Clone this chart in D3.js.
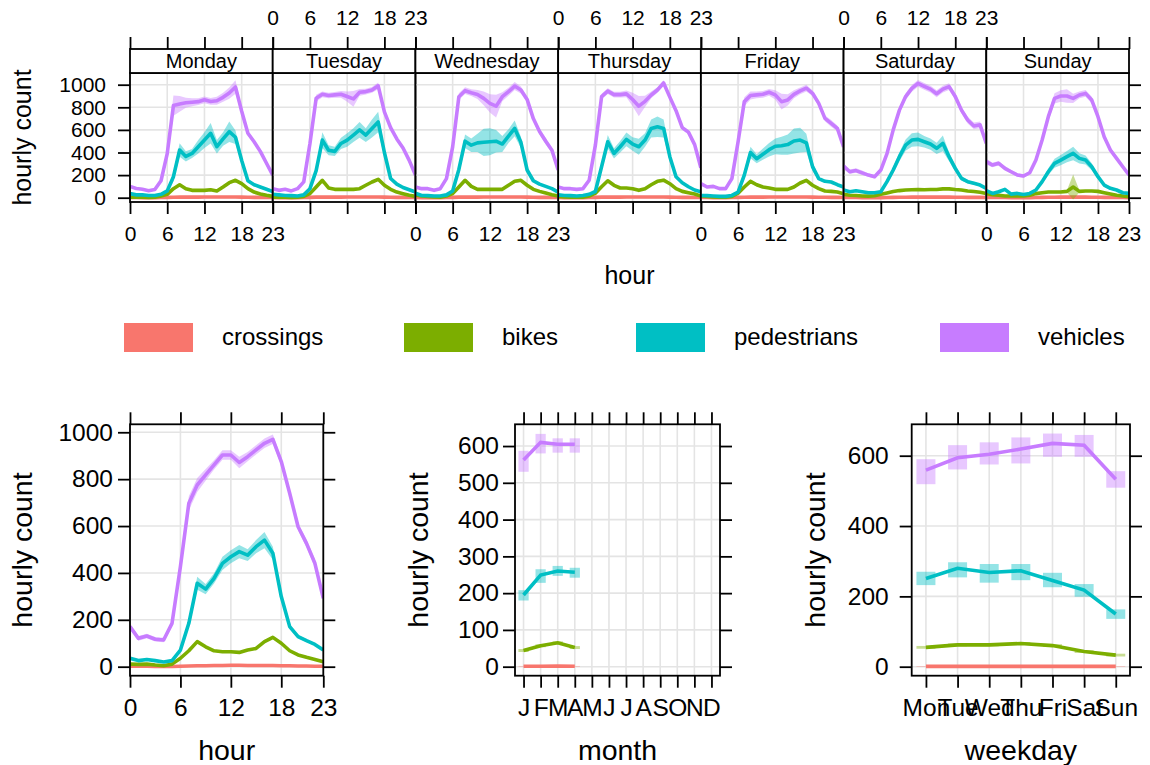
<!DOCTYPE html>
<html>
<head>
<meta charset="utf-8">
<script src="https://cdn.jsdelivr.net/npm/d3@7"></script>
<style>
body { margin: 0; background: #fff; }
text { font-family: "Liberation Sans", Arial, sans-serif; fill: #000; }
</style>
</head>
<body>
<div id="chart"></div>
<script>
var width = 1150,
    height = 765;

var days = ["Monday", "Tuesday", "Wednesday", "Thursday", "Friday", "Saturday", "Sunday"];
var dayShort = ["Mon", "Tue", "Wed", "Thu", "Fri", "Sat", "Sun"];
var monthLabels = ["J", "F", "M", "A", "M", "J", "J", "A", "S", "O", "N", "D"];
var seriesNames = ["crossings", "bikes", "pedestrians", "vehicles"];
var colors = ["#F8766D", "#7CAE00", "#00BFC4", "#C77CFF"];
var hourTicks = [0, 6, 12, 18, 23];

// hourly means per weekday (rows Monday..Sunday, hours 0..23)
var crossingsDay = [
  [2,2,1,1,1,2,3,4,5,5,5,5,6,6,6,6,6,6,5,4,3,3,2,2],
  [2,1,1,1,1,2,3,5,5,5,5,5,6,6,6,6,6,6,5,4,3,3,2,2],
  [2,1,1,1,1,2,3,5,5,5,5,6,6,6,6,6,6,6,5,4,3,3,2,2],
  [2,1,1,1,1,2,3,5,5,5,5,6,6,6,6,6,6,6,5,4,3,3,2,2],
  [2,2,1,1,1,2,3,4,5,5,5,6,6,6,6,6,6,6,5,4,4,3,3,2],
  [3,2,2,1,1,1,1,2,3,4,4,5,5,5,5,5,5,5,4,4,3,3,3,2],
  [3,2,2,2,1,1,1,1,2,3,4,4,5,5,5,5,5,4,4,3,3,2,2,1]
];
var crossingsBand = [2,2,2,2,2,2,2,2,2,2,2,2,2,2,2,2,2,2,2,2,2,2,2,2];

var bikesDay = [
  [5,4,4,3,4,15,30,80,115,80,65,65,65,70,60,95,133,154,124,80,50,33,21,12],
  [5,4,4,3,4,12,36,95,154,86,74,74,74,74,80,110,139,163,110,74,50,36,21,12],
  [25,15,10,6,5,15,36,95,154,100,74,74,74,74,74,110,145,154,110,74,56,41,27,15],
  [10,6,5,4,5,15,40,97,150,110,86,86,80,65,80,115,145,155,124,80,56,44,33,15],
  [15,10,6,5,5,12,40,95,145,115,95,86,74,74,74,95,130,154,110,80,59,56,50,36],
  [30,22,20,15,14,18,30,42,55,63,68,70,72,70,72,72,78,78,72,68,60,55,48,38],
  [36,27,21,15,15,15,15,21,36,44,50,50,50,56,95,56,59,59,56,44,33,21,15,8]
];
var bikesDayCI = [
  [3,3,3,3,3,5,8,10,12,10,8,8,8,8,8,10,12,12,10,8,6,5,4,3],
  [3,3,3,3,3,5,8,12,14,10,8,8,8,8,8,10,12,14,10,8,6,5,4,3],
  [4,3,3,3,3,5,8,12,14,10,8,8,8,8,8,10,12,14,10,8,6,5,4,3],
  [3,3,3,3,3,5,8,12,14,10,8,8,8,8,8,10,12,14,10,8,6,5,4,3],
  [3,3,3,3,3,5,8,12,16,14,10,8,8,8,8,10,12,14,10,8,6,5,4,4],
  [5,4,4,3,3,3,4,5,6,7,7,7,7,7,7,7,8,8,7,7,6,6,5,5],
  [6,5,5,4,4,4,4,5,6,8,8,8,8,10,110,10,8,8,8,8,6,5,4,4]
];

var pedestriansDay = [
  [36,25,25,20,20,30,60,186,422,365,392,451,510,570,451,520,584,535,330,150,115,95,75,55],
  [30,25,20,18,15,25,80,240,510,420,410,480,510,554,600,554,613,670,400,170,120,90,70,50],
  [40,20,18,15,15,25,60,250,500,465,485,490,495,500,475,545,613,490,245,150,120,100,80,50],
  [25,20,18,15,20,30,55,274,495,392,451,516,475,451,510,613,628,613,363,186,133,97,68,53],
  [20,18,15,12,12,20,50,200,400,345,385,425,455,460,470,502,510,485,275,169,145,139,115,95],
  [68,53,62,53,44,44,53,142,245,363,466,510,516,495,475,437,481,363,260,171,142,127,112,83],
  [62,38,53,74,32,38,29,38,68,142,230,304,333,363,392,348,333,274,186,112,83,68,44,38]
];
var pedestriansDayCI = [
  [8,6,6,6,6,8,15,40,60,45,40,60,70,90,60,60,90,60,30,15,12,10,10,8],
  [6,6,6,6,6,8,15,40,70,45,40,50,60,60,70,60,80,90,40,15,12,10,10,8],
  [6,6,6,6,6,8,15,40,60,60,80,120,120,100,70,60,70,50,30,15,12,10,10,8],
  [6,6,6,6,6,8,15,40,60,45,50,60,60,70,60,80,90,80,40,15,12,10,10,8],
  [6,6,6,6,6,8,15,40,50,40,50,60,70,80,90,110,110,80,40,15,12,10,10,8],
  [10,8,8,8,8,8,10,20,30,40,50,60,60,50,50,50,70,40,30,20,15,12,12,10],
  [10,8,10,12,8,8,8,8,10,20,30,40,45,50,60,45,40,30,20,15,12,10,8,8]
];

var vehiclesDay = [
  [100,82,75,62,72,150,390,815,830,840,845,850,866,852,858,888,926,980,765,570,495,410,305,200],
  [80,65,74,60,80,140,480,880,915,904,910,915,895,874,933,939,954,990,760,620,520,440,330,200],
  [95,80,80,65,80,169,450,894,947,929,914,879,835,810,894,938,988,953,870,700,585,500,420,245],
  [95,80,80,74,80,154,465,894,943,912,912,919,869,810,853,909,953,1015,890,770,620,580,470,265],
  [124,95,100,80,80,169,495,850,904,910,915,933,910,850,865,915,945,969,924,835,702,658,613,450],
  [280,230,240,220,200,185,245,390,600,775,895,968,1012,986,961,920,961,983,895,775,687,635,645,480],
  [319,289,304,260,230,201,192,221,333,510,717,879,900,900,879,909,923,864,717,540,422,348,274,201]
];
var vehiclesDayCI = [
  [12,10,10,10,10,15,40,90,70,45,35,30,30,30,35,40,50,60,30,20,20,18,15,15],
  [10,10,10,10,10,15,40,30,25,25,25,30,45,70,30,25,25,30,25,20,20,20,15,15],
  [10,10,10,10,10,15,40,30,30,30,40,60,80,100,40,35,35,30,25,25,25,30,25,15],
  [10,10,10,10,10,15,40,25,25,25,25,30,60,90,50,30,25,25,20,20,20,20,20,15],
  [12,10,10,10,10,15,40,40,35,30,30,30,40,70,50,35,30,30,25,25,25,30,25,25],
  [25,20,20,20,15,15,15,20,25,30,30,30,30,30,30,30,30,30,30,30,30,30,30,30],
  [25,20,20,20,15,15,15,15,20,25,35,45,50,60,40,30,30,30,25,20,20,20,15,15]
];

// hourly means over all days
var crossingsAll = [2,2,2,1,1,1,2,3,4,4,5,5,6,6,5,5,5,5,4,4,3,3,2,2];
var crossingsAllCI = [1,1,1,1,1,1,1,1,1,1,1,1,1,1,1,1,1,1,1,1,1,1,1,1];
var bikesAll = [11,10,11,7,4,11,36,68,107,85,68,64,64,61,71,78,107,125,100,68,50,40,31,21];
var bikesAllCI = [3,3,3,2,2,3,4,5,6,5,4,4,4,4,4,5,6,7,5,4,3,3,3,3];
var pedestriansAll = [36,26,31,26,20,26,71,185,356,331,377,441,469,491,476,512,540,484,299,171,128,111,95,71];
var pedestriansAllCI = [5,4,4,4,4,4,8,15,28,22,22,28,28,28,25,28,35,28,15,10,8,6,6,5];
var vehiclesAll = [171,121,131,117,114,185,427,697,775,818,861,903,903,871,896,925,953,970,875,740,597,526,441,292];
var vehiclesAllCI = [12,10,10,10,10,12,20,30,30,25,20,20,20,25,20,20,20,20,18,15,15,18,18,12];

// monthly means (Jan..Apr available)
var crossingsMonth = [1, 1, 2, 1];
var crossingsMonthLo = [0, 0, 1, 0];
var crossingsMonthHi = [2, 2, 3, 2];
var bikesMonth = [44, 57, 65, 52];
var bikesMonthLo = [40, 53, 61, 48];
var bikesMonthHi = [48, 61, 69, 56];
var pedestriansMonth = [195, 249, 260, 257];
var pedestriansMonthLo = [180, 228, 247, 242];
var pedestriansMonthHi = [208, 265, 274, 269];
var vehiclesMonth = [562, 610, 605, 605];
var vehiclesMonthLo = [530, 580, 582, 582];
var vehiclesMonthHi = [587, 633, 621, 621];

// weekday means
var crossingsWeek = [1, 1, 1, 1, 1, 1, 1];
var crossingsWeekLo = [0, 0, 0, 0, 0, 0, 0];
var crossingsWeekHi = [2, 2, 2, 2, 2, 2, 2];
var bikesWeek = [55, 62, 62, 66, 60, 43, 33];
var bikesWeekLo = [51, 58, 58, 62, 56, 39, 29];
var bikesWeekHi = [59, 66, 66, 70, 64, 47, 37];
var pedestriansWeek = [251, 280, 268, 273, 245, 218, 150];
var pedestriansWeekLo = [232, 254, 239, 246, 226, 199, 136];
var pedestriansWeekHi = [270, 297, 292, 292, 267, 235, 163];
var vehiclesWeek = [559, 594, 604, 619, 635, 630, 533];
var vehiclesWeekLo = [519, 561, 575, 578, 597, 597, 509];
var vehiclesWeekHi = [590, 630, 638, 652, 663, 659, 556];

var dayData = [
  {mean: crossingsDay, ci: crossingsDay.map(function() { return crossingsBand; })},
  {mean: bikesDay, ci: bikesDayCI},
  {mean: pedestriansDay, ci: pedestriansDayCI},
  {mean: vehiclesDay, ci: vehiclesDayCI}
];
var allData = [
  {mean: crossingsAll, ci: crossingsAllCI},
  {mean: bikesAll, ci: bikesAllCI},
  {mean: pedestriansAll, ci: pedestriansAllCI},
  {mean: vehiclesAll, ci: vehiclesAllCI}
];
var monthData = [
  {mean: crossingsMonth, lo: crossingsMonthLo, hi: crossingsMonthHi},
  {mean: bikesMonth, lo: bikesMonthLo, hi: bikesMonthHi},
  {mean: pedestriansMonth, lo: pedestriansMonthLo, hi: pedestriansMonthHi},
  {mean: vehiclesMonth, lo: vehiclesMonthLo, hi: vehiclesMonthHi}
];
var weekData = [
  {mean: crossingsWeek, lo: crossingsWeekLo, hi: crossingsWeekHi},
  {mean: bikesWeek, lo: bikesWeekLo, hi: bikesWeekHi},
  {mean: pedestriansWeek, lo: pedestriansWeekLo, hi: pedestriansWeekHi},
  {mean: vehiclesWeek, lo: vehiclesWeekLo, hi: vehiclesWeekHi}
];

var svg = d3.select("#chart")
    .append("svg")
    .attr("width", width)
    .attr("height", height);

var font = "'Liberation Sans', Arial, sans-serif";
var gridColor = "#e4e4e4";
var lineWidth = 3.6;
var clipId = 0;
var intFmt = d3.format("d");
var noLabel = function() { return ""; };

function styleAxis(g, size) {
  g.attr("font-family", font).attr("font-size", size);
  g.select(".domain").remove();
  g.selectAll(".tick line").attr("stroke", "#000").attr("stroke-width", 1.8);
  g.selectAll(".tick text").attr("fill", "#000");
}

function grid(g, x, y, xv, yv) {
  g.append("g").selectAll("line").data(xv).enter().append("line")
    .attr("x1", function(d) { return x(d); }).attr("x2", function(d) { return x(d); })
    .attr("y1", y.range()[0]).attr("y2", y.range()[1])
    .attr("stroke", gridColor).attr("stroke-width", 1.6);
  g.append("g").selectAll("line").data(yv).enter().append("line")
    .attr("y1", function(d) { return y(d); }).attr("y2", function(d) { return y(d); })
    .attr("x1", x.range()[0]).attr("x2", x.range()[1])
    .attr("stroke", gridColor).attr("stroke-width", 1.6);
}

function clipped(g, x, y) {
  var id = "clip" + (clipId++);
  g.append("clipPath").attr("id", id).append("rect")
    .attr("x", x.range()[0]).attr("y", y.range()[1])
    .attr("width", x.range()[1] - x.range()[0])
    .attr("height", y.range()[0] - y.range()[1]);
  return g.append("g").attr("clip-path", "url(#" + id + ")");
}

function drawHourly(g, x, y, mean, ci, color) {
  var pts = mean.map(function(v, i) { return {h: i, v: v, lo: v - ci[i], hi: v + ci[i]}; });
  g.append("path").datum(pts)
    .attr("fill", color).attr("fill-opacity", 0.42)
    .attr("d", d3.area()
      .x(function(d) { return x(d.h); })
      .y0(function(d) { return y(d.lo); })
      .y1(function(d) { return y(d.hi); }));
  g.append("path").datum(pts)
    .attr("fill", "none").attr("stroke", color).attr("stroke-width", lineWidth)
    .attr("stroke-linejoin", "round")
    .attr("d", d3.line()
      .x(function(d) { return x(d.h); })
      .y(function(d) { return y(d.v); }));
}

function drawBoxes(g, x, y, s, color) {
  var pts = s.mean.map(function(v, i) { return {k: i + 1, v: v, lo: s.lo[i], hi: s.hi[i]}; });
  g.append("g").selectAll("rect").data(pts).enter().append("rect")
    .attr("x", function(d) { return x(d.k - 0.3); })
    .attr("width", function(d) { return x(d.k + 0.3) - x(d.k - 0.3); })
    .attr("y", function(d) { return y(d.hi); })
    .attr("height", function(d) { return y(d.lo) - y(d.hi); })
    .attr("fill", color).attr("fill-opacity", 0.42);
  g.append("path").datum(pts)
    .attr("fill", "none").attr("stroke", color).attr("stroke-width", lineWidth)
    .attr("d", d3.line()
      .x(function(d) { return x(d.k); })
      .y(function(d) { return y(d.v); }));
}

function frame(g, x, y) {
  g.append("rect")
    .attr("x", x.range()[0]).attr("y", y.range()[1])
    .attr("width", x.range()[1] - x.range()[0])
    .attr("height", y.range()[0] - y.range()[1])
    .attr("fill", "none").attr("stroke", "#000").attr("stroke-width", 1.8);
}

// ---------- top: hour by weekday ----------
var topL = 130, topR = 1129, stripTop = 49, panelTop = 73, panelBot = 202;
var pw = (topR - topL) / 7;
var yTop = d3.scaleLinear().domain([-38, 1103.5]).range([panelBot, panelTop]);
var yTicksTop = [0, 200, 400, 600, 800, 1000];

days.forEach(function(day, i) {
  var x = d3.scaleLinear().domain([0, 23]).range([topL + i * pw, topL + (i + 1) * pw]);
  var g = svg.append("g");
  grid(g, x, yTop, hourTicks, yTicksTop);
  var body = clipped(g, x, yTop);
  dayData.forEach(function(s, k) {
    drawHourly(body, x, yTop, s.mean[i], s.ci[i], colors[k]);
  });
  frame(g, x, yTop);

  // strip
  g.append("rect")
    .attr("x", x.range()[0]).attr("y", stripTop)
    .attr("width", pw).attr("height", panelTop - stripTop)
    .attr("fill", "#fff").attr("stroke", "#000").attr("stroke-width", 1.8);
  g.append("text")
    .attr("x", (x.range()[0] + x.range()[1]) / 2)
    .attr("y", (stripTop + panelTop) / 2)
    .attr("dy", "0.35em")
    .attr("text-anchor", "middle")
    .attr("font-size", 20)
    .text(day);

  var bottom = g.append("g").attr("transform", "translate(0," + panelBot + ")")
    .call(d3.axisBottom(x).tickValues(hourTicks).tickSize(12).tickPadding(12)
      .tickFormat(i % 2 === 0 ? intFmt : noLabel));
  styleAxis(bottom, 21);
  var top = g.append("g").attr("transform", "translate(0," + stripTop + ")")
    .call(d3.axisTop(x).tickValues(hourTicks).tickSize(12).tickPadding(12)
      .tickFormat(i % 2 === 1 ? intFmt : noLabel));
  styleAxis(top, 21);
});

var leftTop = svg.append("g").attr("transform", "translate(" + topL + ",0)")
  .call(d3.axisLeft(yTop).tickValues(yTicksTop).tickSize(12).tickPadding(12).tickFormat(intFmt));
styleAxis(leftTop, 21);
var rightTop = svg.append("g").attr("transform", "translate(" + topR + ",0)")
  .call(d3.axisRight(yTop).tickValues(yTicksTop).tickSize(12).tickFormat(noLabel));
styleAxis(rightTop, 21);

svg.append("text")
  .attr("x", (topL + topR) / 2).attr("y", 275).attr("dy", "0.35em")
  .attr("text-anchor", "middle").attr("font-size", 25).text("hour");
svg.append("text")
  .attr("transform", "translate(22," + (panelTop + panelBot) / 2 + ") rotate(-90)")
  .attr("dy", "0.35em")
  .attr("text-anchor", "middle").attr("font-size", 25).text("hourly count");

// ---------- legend ----------
var legendX = [124, 404, 636, 940];
var legend = svg.append("g").selectAll("g").data(seriesNames).enter().append("g");
legend.append("rect")
  .attr("x", function(d, i) { return legendX[i]; })
  .attr("y", 323).attr("width", 69).attr("height", 29)
  .attr("fill", function(d, i) { return colors[i]; });
legend.append("text")
  .attr("x", function(d, i) { return legendX[i] + 98; })
  .attr("y", 337).attr("dy", "0.35em")
  .attr("font-size", 24)
  .text(function(d) { return d; });

// ---------- bottom panels ----------
var bTop = 424.3, bBot = 675.7;

function bottomPanel(x, y, xTicks, xFmt, yTicks, yPad, title, ylabX) {
  var g = svg.append("g");
  grid(g, x, y, xTicks, yTicks);
  var body = clipped(g, x, y);
  frame(g, x, y);
  var ax = g.append("g").attr("transform", "translate(0," + bBot + ")")
    .call(d3.axisBottom(x).tickValues(xTicks).tickSize(12).tickPadding(11).tickFormat(xFmt));
  styleAxis(ax, 24.5);
  var at = g.append("g").attr("transform", "translate(0," + bTop + ")")
    .call(d3.axisTop(x).tickValues(xTicks).tickSize(12).tickFormat(noLabel));
  styleAxis(at, 24.5);
  var al = g.append("g").attr("transform", "translate(" + x.range()[0] + ",0)")
    .call(d3.axisLeft(y).tickValues(yTicks).tickSize(12).tickPadding(yPad).tickFormat(intFmt));
  styleAxis(al, 24.5);
  var ar = g.append("g").attr("transform", "translate(" + x.range()[1] + ",0)")
    .call(d3.axisRight(y).tickValues(yTicks).tickSize(12).tickFormat(noLabel));
  styleAxis(ar, 24.5);
  g.append("text")
    .attr("x", (x.range()[0] + x.range()[1]) / 2).attr("y", 750).attr("dy", "0.35em")
    .attr("text-anchor", "middle").attr("font-size", 28.5).text(title);
  g.append("text")
    .attr("transform", "translate(" + ylabX + "," + (bTop + bBot) / 2 + ") rotate(-90)")
    .attr("dy", "0.35em")
    .attr("text-anchor", "middle").attr("font-size", 28.5).text("hourly count");
  return body;
}

// hour
var xHour = d3.scaleLinear().domain([0, 23]).range([130, 323.3]);
var yHour = d3.scaleLinear().domain([-38.4, 1034]).range([bBot, bTop]);
var hourBody = bottomPanel(xHour, yHour, hourTicks, intFmt,
  [0, 200, 400, 600, 800, 1000], 5, "hour", 22);
allData.forEach(function(s, k) {
  drawHourly(hourBody, xHour, yHour, s.mean, s.ci, colors[k]);
});

// month
var xMonth = d3.scaleLinear().domain([0.5, 12.5]).range([515, 720]);
var yMonth = d3.scaleLinear().domain([-24.5, 659.1]).range([bBot, bTop]);
var monthBody = bottomPanel(xMonth, yMonth, d3.range(1, 13),
  function(d) { return monthLabels[d - 1]; },
  [0, 100, 200, 300, 400, 500, 600], 4, "month", 418);
monthData.forEach(function(s, k) {
  drawBoxes(monthBody, xMonth, yMonth, s, colors[k]);
});

// weekday
var xWeek = d3.scaleLinear().domain([0.55, 7.45]).range([911.7, 1130]);
var yWeek = d3.scaleLinear().domain([-25.6, 689.3]).range([bBot, bTop]);
var weekBody = bottomPanel(xWeek, yWeek, d3.range(1, 8),
  function(d) { return dayShort[d - 1]; },
  [0, 200, 400, 600], 11, "weekday", 815);
weekData.forEach(function(s, k) {
  drawBoxes(weekBody, xWeek, yWeek, s, colors[k]);
});
</script>
</body>
</html>
